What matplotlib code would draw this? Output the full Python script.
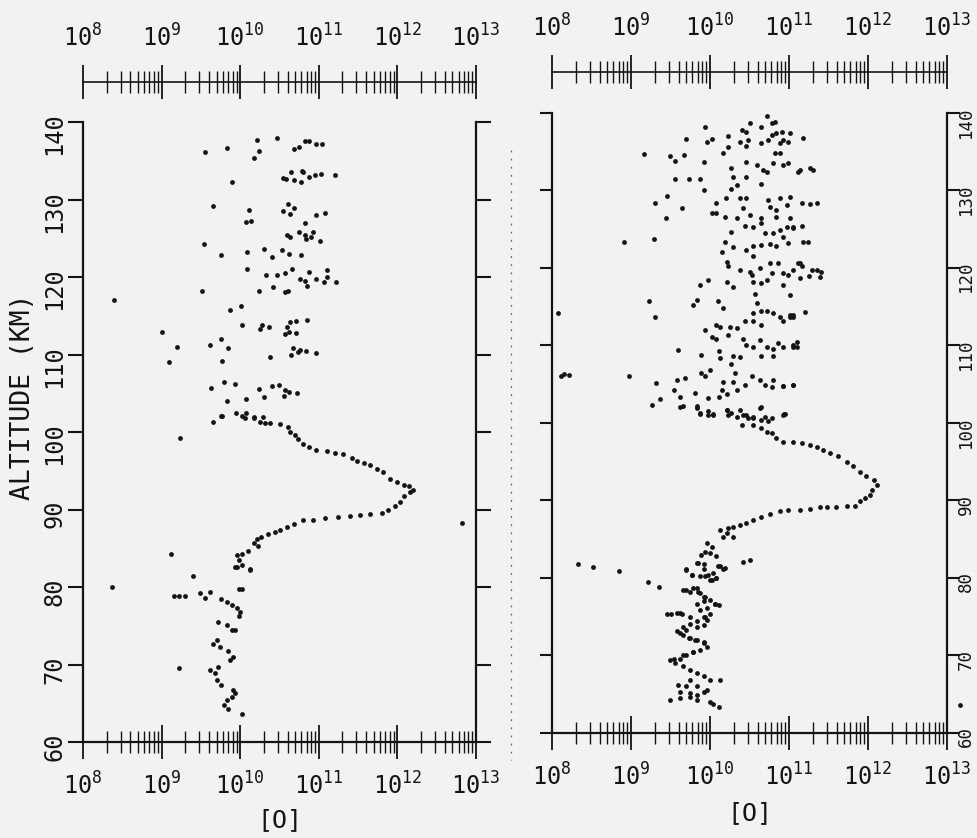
import numpy as np
import matplotlib
matplotlib.use("Agg")
import matplotlib.pyplot as plt
from matplotlib.ticker import LogLocator, FuncFormatter, NullFormatter
from matplotlib.lines import Line2D

# ---------------- data: (log10 [O] , altitude km) ----------------
left_upper = [
    (10.21,137.7),(10.47,137.9),(10.83,137.6),(10.87,137.5),(10.97,137.2),(11.04,137.2),(9.55,136.1),(9.83,136.6),
    (10.24,136.3),(10.17,135.3),(10.68,136.5),(10.75,136.8),
    (9.89,132.3),(10.55,132.8),(10.58,132.7),(10.65,133.6),(10.79,133.7),(10.80,133.5),(10.69,132.5),(10.77,132.3),
    (10.87,132.9),(10.95,133.2),(11.03,133.3),(11.21,133.1),
    (9.65,129.1),(10.11,128.6),(10.08,127.1),(10.14,127.2),(10.54,128.5),(10.61,129.4),(10.69,128.9),(10.63,128.1),
    (10.96,128.0),(11.08,128.2),(10.82,127.0),
    (10.60,125.4),(10.63,125.2),(10.75,125.8),(10.82,125.4),(10.84,124.9),(10.90,125.1),(10.93,125.8),(11.01,124.7),
    (9.54,124.2),(9.76,122.9),(10.09,123.2),(10.30,123.6),(10.41,122.6),(10.53,123.5),(10.62,123.0),(10.77,122.8),
    (10.09,121.0),(10.33,120.3),(10.47,120.2),(10.57,120.5),(10.66,121.0),(10.88,120.7),(10.76,119.7),(10.82,119.5),
    (10.85,118.9),(10.96,119.8),(11.10,120.9),(11.10,120.0),(11.07,119.3),(11.22,119.3),
    (9.52,118.2),(10.24,118.2),(10.42,118.7),(10.57,118.1),(10.61,118.2),
    (9.87,115.7),(10.01,116.3),(10.02,113.8),(10.25,113.3),(10.28,113.8),(10.37,113.5),(10.59,113.5),(10.63,114.2),
    (10.71,114.3),(10.85,114.4),(10.57,112.7),(10.62,112.9),(10.71,112.8),
    (9.76,112.0),(9.61,111.2),(9.84,110.8),(9.77,109.2),(10.38,109.7),(10.67,110.8),(10.64,109.9),(10.74,110.3),
    (10.76,110.6),(10.84,110.4),(10.96,110.2),
    (9.79,106.5),(9.63,105.7),(9.94,106.2),(9.83,104.0),(10.07,104.3),(10.24,105.6),(10.30,104.5),(10.41,105.9),
    (10.49,106.1),(10.57,105.4),(10.62,105.2),(10.56,104.7),(10.72,105.0),
    (9.77,102.1),(9.95,102.4),(10.02,102.1),(10.08,102.5),(10.18,101.8),(10.29,102.0),
]
left_outliers = [
    (8.39,117.0),(9.01,112.9),(9.19,111.0),(9.09,109.0),(9.23,99.2),(9.12,84.3),(8.37,80.0),
    (9.16,78.8),(9.22,78.8),(9.30,78.8),(9.22,69.5),(12.82,88.3),
]
left_peak = [
    (9.66,101.3),(9.76,102.1),(10.06,101.8),(10.17,101.9),(10.25,101.3),(10.32,101.2),(10.38,101.1),(10.51,101.0),
    (10.61,100.7),(10.63,100.0),(10.70,99.6),(10.74,99.1),(10.80,98.5),(10.87,98.1),(10.97,97.7),(11.10,97.5),
    (11.21,97.3),(11.31,97.1),(11.42,96.6),(11.48,96.3),(11.57,96.0),(11.65,95.7),(11.74,95.2),(11.82,94.8),
    (11.91,94.0),(11.99,93.6),(12.08,93.2),(12.15,93.0),(12.20,92.5),(12.16,92.3),(12.08,91.7),(12.03,91.0),
    (11.97,90.4),(11.88,89.9),(11.80,89.6),(11.65,89.4),(11.52,89.3),(11.40,89.2),(11.25,89.0),(11.08,88.9),
    (10.93,88.7),(10.80,88.6),(10.68,88.1),(10.59,87.7),(10.51,87.4),(10.44,87.1),(10.36,86.8),(10.27,86.5),
    (10.21,86.2),(10.17,85.7),(10.23,85.3),(10.10,84.7),(10.02,84.3),(9.96,84.1),(9.98,83.5),(10.02,82.8),
    (9.93,82.6),(10.12,82.2),
]
left_lower = [
    (9.40,81.4),(9.49,79.2),(9.55,78.6),(9.62,79.4),(9.98,79.8),(10.02,79.8),(9.96,82.6),(10.12,82.3),
    (9.76,78.5),(9.83,78.1),(9.89,77.7),(9.96,77.3),(10.00,76.8),(9.98,76.2),(9.72,75.5),(9.83,75.1),
    (9.89,74.5),(9.93,74.5),(9.66,72.7),(9.70,73.2),(9.74,72.3),(9.85,71.7),(9.91,71.0),(9.87,70.6),
    (9.62,69.3),(9.68,68.9),(9.72,69.7),(9.70,68.0),(9.76,67.4),(9.91,66.7),(9.89,65.8),(9.83,65.4),
    (9.79,64.8),(9.85,64.3),(10.02,63.6),(9.93,66.3),
]

right_upper = [
    (10.72,139.6),(10.78,138.7),(10.82,138.9),(10.65,138.2),(10.51,138.7),(10.41,137.8),(10.46,137.6),(9.94,138.2),
    (9.70,136.7),(9.96,136.3),(10.03,136.6),(10.23,137.0),(10.38,136.2),(10.46,135.7),(10.48,136.5),(10.65,136.1),
    (10.74,136.5),(10.78,137.2),(10.84,137.4),(10.91,137.6),(11.01,137.4),(10.93,136.5),(10.99,136.3),(10.89,136.1),
    (9.16,134.7),(9.50,134.4),(9.56,133.8),(9.67,134.6),(9.92,133.7),(10.17,134.8),(10.23,135.6),(10.46,133.7),
    (10.59,133.3),(10.67,132.6),(10.80,133.5),(10.89,134.9),(10.82,134.9),(10.93,133.3),(10.99,133.5),(11.12,132.4),
    (10.72,132.4),
    (9.56,131.5),(9.73,131.5),(9.87,131.5),(9.92,130.0),(10.27,132.9),(10.29,131.8),(10.34,130.7),(10.27,130.2),
    (10.46,131.8),(10.65,130.8),(9.46,129.3),(9.31,128.35),(9.64,127.8),(9.44,126.5),(10.08,128.35),(10.20,129.0),
    (10.38,129.0),(10.46,129.0),(10.02,127.1),(10.08,127.1),(10.19,126.6),(10.34,126.5),(10.42,127.7),(10.51,126.8),
    (10.65,126.4),(10.74,128.8),(10.76,127.9),(10.84,127.5),(10.89,129.0),(10.97,128.1),(11.01,129.2),(10.84,126.6),
    (11.01,126.5),
    (8.91,123.4),(9.29,123.7),(10.27,124.6),(10.44,125.4),(10.55,125.3),(10.65,125.8),(10.70,124.5),(10.80,124.5),
    (10.89,124.9),(10.97,125.3),(11.05,125.1),(10.93,124.0),(10.19,123.3),(10.15,122.1),(10.29,122.7),(10.45,122.3),
    (10.55,122.8),(10.65,123.0),(10.76,123.1),(10.84,122.8),(10.99,123.2),(10.55,121.5),
    (10.21,120.8),(10.23,120.2),(10.38,119.8),(10.51,119.5),(10.53,119.1),(10.63,120.0),(10.76,120.6),(10.78,119.3),
    (10.86,120.6),(10.93,119.3),(10.99,119.1),(11.05,119.75),(11.12,120.6),(10.21,118.2),(10.29,117.5),(10.55,118.2),
    (10.65,118.0),(10.72,118.5),(10.57,116.7),(10.59,115.45),(10.93,117.8),(11.01,116.5),
    (9.87,117.8),(9.97,118.5),(9.23,115.75),(9.30,113.7),(9.79,115.2),(9.84,115.9),(10.10,115.7),(10.17,114.9),
    (10.55,114.15),(10.65,114.4),(10.72,114.5),(10.80,114.15),(10.89,113.7),(10.93,113.1),(11.01,113.9),(11.05,113.7),
    (9.94,112.0),(10.08,112.7),(10.13,112.4),(10.25,112.4),(10.34,112.2),(10.23,111.4),(10.02,111.1),(10.08,110.9),
    (10.42,110.9),(10.46,110.1),(10.55,109.85),(10.63,110.7),(10.72,109.85),(10.80,109.6),(10.86,110.3),(10.93,109.85),
    (11.05,110.1),(11.10,109.85),(10.44,113.1),(10.55,113.1),(10.65,112.7),
    (9.60,109.4),(9.89,108.8),(10.11,109.3),(10.13,108.35),(10.29,108.65),(10.38,108.5),(10.65,108.65),(10.80,108.6),
    (8.97,106.1),(9.32,105.2),(9.58,105.5),(9.68,105.85),(9.89,106.4),(9.94,106.0),(10.00,106.9),(10.27,107.6),
    (10.32,106.4),(10.17,105.3),(10.29,105.3),(10.44,104.9),(10.53,106.0),(10.63,105.55),(10.70,104.9),(10.78,104.6),
    (10.80,105.6),(10.93,104.8),(11.05,104.9),
    (9.26,102.3),(9.37,103.05),(9.55,104.2),(9.62,103.3),(9.81,103.9),(9.98,103.2),(10.11,103.3),(10.15,104.3),
    (10.21,103.8),(10.34,104.3),(9.66,102.2),(9.83,102.2),(9.87,101.25),(9.98,101.5),(10.04,101.0),(10.21,101.7),
    (10.27,101.25),(10.38,101.7),(10.46,101.0),(10.55,100.8),(10.63,101.9),(10.70,100.8),(10.78,100.6),(10.93,101.0),
    (11.18,136.8),(11.27,132.9),(11.31,132.6),(11.14,132.6),(11.16,128.35),(11.26,128.2),(11.36,128.35),(11.05,125.3),
    (11.16,125.4),(11.18,123.3),(11.24,123.4),(11.14,120.6),(11.16,120.3),(11.29,119.7),(11.35,119.7),(11.41,119.5),
    (11.39,118.9),(11.25,119.0),(11.14,118.7),(11.20,114.3),(11.05,113.9),(11.01,113.7),(11.10,110.4),(11.05,109.85),
    (11.05,104.9),(10.93,104.8),(10.95,101.2),
]
right_outliers = [
    (8.07,114.2),(8.11,106.1),(8.15,106.3),(8.21,106.2),(8.33,81.8),(8.52,81.4),(8.85,80.95),(9.22,79.5),
    (9.35,78.9),(13.16,63.6),
]
right_peak = [
    (9.62,102.1),(9.83,101.9),(9.87,101.2),(9.98,101.0),(10.04,101.2),(10.21,101.7),(10.23,101.0),(10.34,100.8),
    (10.42,101.0),(10.48,100.7),(10.55,100.6),(10.65,100.4),(10.74,100.3),(10.65,102.0),(10.94,101.1),(10.40,99.7),
    (10.55,99.7),(10.65,99.3),(10.72,98.9),(10.78,98.7),(10.84,98.0),(10.93,97.6),(11.05,97.5),(11.16,97.4),
    (11.27,97.2),(11.35,96.95),(11.43,96.5),(11.52,96.1),(11.62,95.7),(11.73,95.0),(11.81,94.4),(11.90,93.7),
    (11.98,93.2),(12.07,92.6),(12.11,92.0),(12.05,91.4),(12.03,90.7),(11.96,90.3),(11.90,89.9),(11.84,89.3),
    (11.73,89.3),(11.60,89.2),(11.48,89.2),(11.39,89.1),(11.27,88.9),(11.14,88.8),(10.99,88.8),(10.89,88.6),
    (10.76,88.3),(10.65,87.9),(10.55,87.5),(10.46,87.1),(10.38,86.8),(10.29,86.6),(10.23,86.4),(10.13,86.2),
    (10.21,85.8),(10.29,85.3),(10.17,85.3),(9.96,84.5),(10.02,84.0),(9.94,83.4),(10.00,83.2),(10.08,82.8),
    (9.89,83.0),(10.51,82.3),(10.42,82.1),(9.83,81.9),(9.92,81.8),(10.10,81.5),(10.19,81.3),(9.70,81.0),
    (9.77,80.4),(9.94,80.3),(10.02,79.8),(10.08,80.0),
]
right_lower = [
    (9.70,81.1),(9.77,80.4),(9.87,80.2),(9.85,81.9),(9.92,81.2),(10.00,79.7),(10.08,80.0),(10.13,81.5),
    (10.17,81.2),(9.98,80.4),(10.04,80.6),
    (9.66,78.45),(9.75,78.2),(9.83,78.7),(9.87,78.0),(9.94,77.6),(10.00,77.2),(10.06,76.7),(10.11,76.5),
    (9.92,77.0),(9.83,76.7),(9.96,76.1),(10.00,75.4),(9.92,75.0),(9.83,74.4),(9.75,74.1),(9.66,73.7),
    (9.92,73.9),(9.96,74.6),(9.45,75.4),(9.58,75.5),(9.64,75.4),
    (9.58,73.1),(9.66,72.6),(9.75,72.2),(9.83,72.0),(9.92,71.8),(9.96,71.1),(9.87,70.7),(9.79,70.5),
    (9.70,70.1),(9.62,69.6),(9.49,69.4),(9.56,69.0),(9.66,68.6),(9.75,68.1),(9.83,67.7),(9.92,67.3),
    (10.00,66.8),(10.13,66.8),(9.75,66.8),
    (9.60,66.2),(9.70,66.0),(9.83,66.1),(9.96,65.5),(9.62,65.3),(9.75,65.1),(9.83,64.9),(9.92,65.3),
    (9.49,64.3),(9.62,64.5),(9.75,64.7),(9.83,64.3),(10.00,64.0),(10.04,63.7),(10.11,63.4),
    (9.70,78.5),(9.79,78.7),(9.85,78.2),(9.92,77.6),(10.06,76.6),(9.87,75.9),(9.51,75.4),(9.62,75.5),
    (9.75,75.0),(9.94,75.0),(9.83,73.7),(9.70,73.3),(9.62,72.9),(9.73,72.2),(9.81,72.0),(9.92,71.6),
    (9.79,70.5),(9.66,70.1),(9.54,69.6),
]

alt_ticks = list(range(60, 141, 10))
x_limits = (1e8, 1e13)
y_limits = (60, 140)
x_label = "[O]"
y_label = "ALTITUDE (KM)"

# ---------------- figure ----------------
W, H = 978, 838
BG = "#f2f2f2"
INK = "#141414"
MONO = "DejaVu Sans Mono"
plt.rcParams["mathtext.fontset"] = "dejavusans"

fig = plt.figure(figsize=(W / 100, H / 100), dpi=100, facecolor=BG)


def px_rect(x0, x1, ytop, ybot):
    return [x0 / W, 1 - ybot / H, (x1 - x0) / W, (ybot - ytop) / H]


def fmt(v, pos):
    e = int(round(np.log10(v)))
    return r"$\mathtt{10}^{\mathtt{%d}}$" % e


def style(ax, right_labels, top_out, xpad, ylen, ysize, ypad):
    ax.set_facecolor("none")
    ax.set_xscale("log")
    ax.set_xlim(*x_limits)
    ax.set_ylim(*y_limits)
    for s in ("left", "right", "bottom", "top"):
        ax.spines[s].set_linewidth(1.6)
        ax.spines[s].set_color(INK)
    ax.spines["top"].set_position(("outward", top_out))
    ax.spines["top"].set_linewidth(1.2)
    ax.xaxis.set_major_locator(LogLocator(base=10, numticks=10))
    ax.xaxis.set_minor_locator(LogLocator(base=10, subs=np.arange(2, 10), numticks=30))
    ax.xaxis.set_minor_formatter(NullFormatter())
    ax.xaxis.set_major_formatter(FuncFormatter(fmt))
    ax.tick_params(axis="x", which="both", top=True, bottom=True, labeltop=True,
                   labelbottom=True, direction="inout", colors=INK)
    ax.tick_params(axis="x", which="major", length=24, width=1.3, labelsize=17, pad=xpad)
    ax.tick_params(axis="x", which="minor", length=16, width=1.0)
    ax.set_yticks(alt_ticks)
    ax.yaxis.set_minor_locator(plt.NullLocator())
    ax.tick_params(axis="y", which="major", left=True, right=True, direction="out",
                   length=ylen, width=1.5, labelsize=ysize, labelrotation=90,
                   labelleft=not right_labels, labelright=right_labels, pad=ypad, colors=INK)
    for lab in ax.get_yticklabels():
        lab.set_fontfamily(MONO)


axL = fig.add_axes(px_rect(83, 476, 122, 742))
axR = fig.add_axes(px_rect(552, 947, 113, 733))
style(axL, False, 28.8, 10, 11, 17, 1)
style(axR, True, 29.5, 10, 9, 12.5, -2)

for ax, groups in ((axL, [left_upper, left_outliers, left_peak, left_lower]),
                   (axR, [right_upper, right_outliers, right_peak, right_lower])):
    pts = np.array([p for g in groups for p in g])
    ax.scatter(10 ** pts[:, 0], pts[:, 1], s=12, c=INK, linewidths=0, clip_on=False, zorder=3)

# labels
fig.text(23 / W, 1 - 397 / H, y_label, rotation=90, ha="center", va="center",
         family=MONO, fontsize=19, color=INK)
fig.text(280 / W, 1 - 820 / H, x_label, ha="center", va="center", family=MONO,
         fontsize=18, color=INK)
fig.text(750 / W, 1 - 813 / H, x_label, ha="center", va="center", family=MONO,
         fontsize=18, color=INK)

# faint dotted scan line between the panels
fig.add_artist(Line2D([511 / W, 511 / W], [1 - 150 / H, 1 - 760 / H], transform=fig.transFigure,
                      ls=(0, (1.5, 5)), color="#666666", lw=0.9))

fig.savefig("out.png", dpi=100, facecolor=BG)
